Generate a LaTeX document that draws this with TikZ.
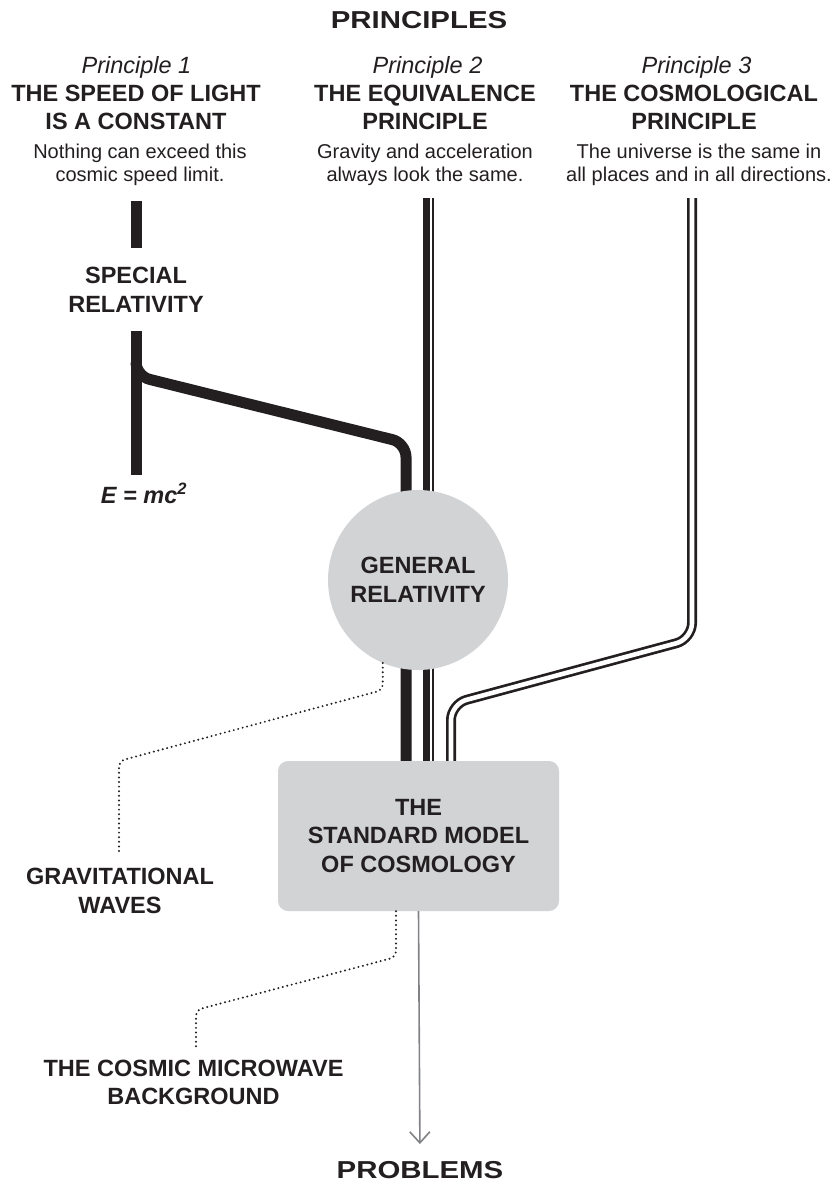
\documentclass[tikz,border=0pt]{standalone}
\usepackage{fontspec}
\setmainfont{Liberation Sans}
\usetikzlibrary{arrows.meta,backgrounds,calc}
\definecolor{ink}{HTML}{231F20}
\definecolor{disc}{HTML}{D1D3D4}
\definecolor{arrowgray}{HTML}{808285}
\begin{document}
\begin{tikzpicture}[x=1pt,y=-1pt,
  lab/.style={inner sep=0pt, text=ink, font=\fontsize{23.5}{28.5}\selectfont\bfseries, align=center},
  pnum/.style={inner sep=0pt, text=ink, font=\fontsize{23.5}{28.5}\selectfont\itshape, anchor=base},
  desc/.style={inner sep=0pt, text=ink, font=\fontsize{20}{22.5}\selectfont, align=center},
  head/.style={inner sep=0pt, text=ink, font=\fontsize{24.5}{28}\selectfont\bfseries, anchor=base},
  thickline/.style={draw=ink, line width=11pt},
  dblline/.style={draw=ink, double=white, double distance=4.6pt, line width=2.7pt, rounded corners=16pt},
  dotline/.style={draw=ink, line width=2.2pt, line cap=round, dash pattern=on 0pt off 4.6pt, rounded corners=6pt},
  arrowline/.style={draw=arrowgray, line width=1.6pt, -{Straight Barb[length=11pt,width=20pt,line width=1.6pt]}}
]
\useasboundingbox (0,0) rectangle (838,1185);

% titles
\node[head] (principles) at (419,28.5) {\scalebox{1.2}[1]{PRINCIPLES}};
\node[head] (problems) at (420,1178.3) {\scalebox{1.2}[1]{PROBLEMS}};

% principles
\node[pnum] (p1num) at (136.5,73.4) {Principle 1};
\node[pnum] (p2num) at (427.5,73.4) {Principle 2};
\node[pnum] (p3num) at (696.5,73.4) {Principle 3};
\node[lab] (p1t) at (136,107.4) {THE SPEED OF LIGHT\\IS A CONSTANT};
\node[lab] (p2t) at (425,107.4) {THE EQUIVALENCE\\PRINCIPLE};
\node[lab] (p3t) at (694,107.4) {THE COSMOLOGICAL\\PRINCIPLE};
\node[desc] (p1d) at (140,164.6) {Nothing can exceed this\\cosmic speed limit.};
\node[desc] (p2d) at (425,164.6) {Gravity and acceleration\\always look the same.};
\node[desc] (p3d) at (699,164.6) {The universe is the same in\\all places and in all directions.};

% concepts
\node[lab] (sr) at (136,290) {SPECIAL\\RELATIVITY};
\node[lab, anchor=base, font=\fontsize{23.5}{28.5}\selectfont\bfseries\itshape] (emc) at (144,503.4) {E = mc\textsuperscript{2}};
\node[lab, circle, fill=disc, minimum size=180pt] (gr) at (418,580) {GENERAL\\RELATIVITY};
\node[lab, rectangle, rounded corners=10pt, fill=disc, minimum width=281pt, minimum height=150pt] (smc) at (418.5,836) {THE\\STANDARD MODEL\\OF COSMOLOGY};
\node[lab] (gw) at (120,891) {GRAVITATIONAL\\WAVES};
\node[lab] (cmb) at (193.5,1082.5) {THE COSMIC MICROWAVE\\BACKGROUND};

% route points
\coordinate (p1top) at (136,201);
\coordinate (p1mid) at (136,331);
\coordinate (p1bot) at (136,475);
\coordinate (p1split) at (136,362);
\coordinate (p1turn) at (136,376);
\coordinate (p1bend) at (406,443);
\coordinate (p2top) at (426.5,198);
\coordinate (p2topb) at (433,198);
\coordinate (p3top) at (692,198);
\coordinate (p3bend) at (692,639);
\coordinate (p3knee) at (451,704);
\coordinate (grdrop) at (383,690);
\coordinate (grknee) at (119,761);
\coordinate (grend) at (119,855);
\coordinate (smcdrop) at (396,957);
\coordinate (smcknee) at (196,1010);
\coordinate (smcend) at (196,1047);

\begin{scope}[on background layer]
  % principle 1
  \draw[thickline, shorten >=19.4pt] (p1top) -- (sr.north);
  \draw[thickline] (p1mid) -- (p1bot);
  \draw[thickline, rounded corners=14pt] (p1split) -- (p1turn) -- (p1bend) -- (p1bend |- smc.north);
  % principle 2
  \draw[draw=ink, line width=7pt] (p2top) -- (p2top |- smc.north);
  \draw[draw=ink, line width=2.2pt] (p2topb) -- (p2topb |- smc.north);
  % principle 3
  \draw[dblline] (p3top) -- (p3bend) -- (p3knee) -- (p3knee |- smc.north);
\end{scope}

% predictions
\draw[dotline] (gr.247) -- (gr.247 |- grdrop) -- (grknee) -- (grend);
\draw[dotline] (smcdrop |- smc.south) -- (smcdrop) -- (smcknee) -- (smcend);
\draw[arrowline, shorten >=17pt] (smc.south) -- (problems.north);
\end{tikzpicture}
\end{document}
